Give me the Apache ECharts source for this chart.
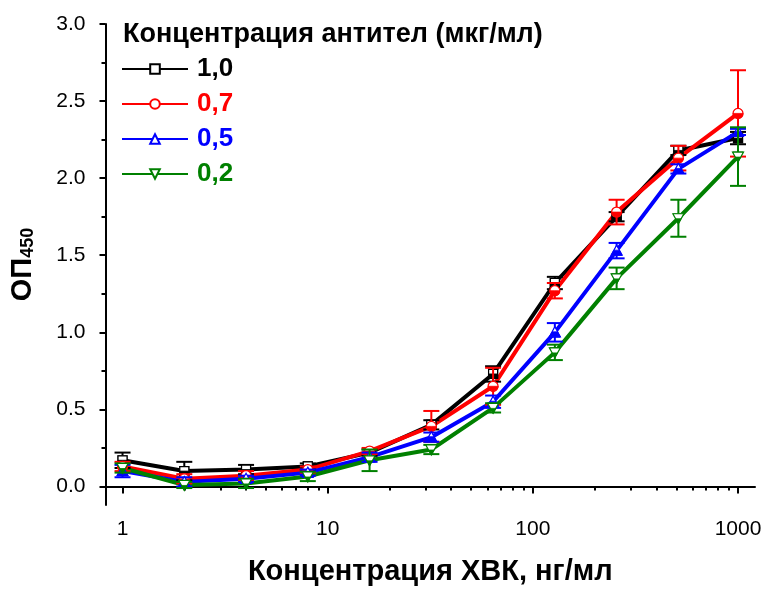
<!DOCTYPE html>
<html>
<head>
<meta charset="utf-8">
<script src="https://cdn.jsdelivr.net/npm/echarts@6/dist/echarts.min.js"></script>
<style>html,body{margin:0;padding:0;background:#fff;}#c{width:766px;height:591px;}</style>
</head>
<body>
<div id="c"></div>
<script>
// ---- data ----
var conc = [1, 2, 4, 8, 16, 32, 64, 128, 256, 512, 1000];
var names = ['1,0', '0,7', '0,5', '0,2'];
var c10 = [0.17, 0.10, 0.11, 0.13, 0.22, 0.40, 0.73, 1.32, 1.75, 2.18, 2.26];
var c10err = [0.05, 0.06, 0.03, 0.02, 0.02, 0.03, 0.05, 0.04, 0.03, 0.03, 0.04];
var c07 = [0.13, 0.05, 0.07, 0.11, 0.23, 0.39, 0.65, 1.27, 1.78, 2.13, 2.42];
var c07err = [0.03, 0.03, 0.03, 0.02, 0.02, 0.10, 0.12, 0.05, 0.08, 0.08, 0.28];
var c05 = [0.10, 0.03, 0.05, 0.09, 0.19, 0.32, 0.55, 1.00, 1.53, 2.06, 2.30];
var c05err = [0.04, 0.03, 0.02, 0.02, 0.03, 0.03, 0.04, 0.06, 0.05, 0.03, 0.02];
var c02 = [0.12, 0.01, 0.02, 0.065, 0.17, 0.24, 0.51, 0.87, 1.35, 1.74, 2.14];
var c02err = [0.03, 0.02, 0.03, 0.03, 0.07, 0.03, 0.03, 0.05, 0.07, 0.12, 0.19];
var xMajor = [1, 10, 100, 1000];
var xMinor = [2,3,4,5,6,7,8,9,20,30,40,50,60,70,80,90,200,300,400,500,600,700,800,900];
var yMajor = [0, 0.5, 1.0, 1.5, 2.0, 2.5, 3.0];
var yMinor = [0.25, 0.75, 1.25, 1.75, 2.25, 2.75];

// ---- styles ----
var colors = ['#000000', '#ff0000', '#0000ff', '#008000'];
var shapes = ['square', 'circle', 'up', 'down'];
var legendSymbols = ['rect', 'circle', 'triangle', 'path://M-5,-4L5,-4L0,5Z'];
var values = [c10, c07, c05, c02];
var errs = [c10err, c07err, c05err, c02err];
var FONT = '"Liberation Sans", Arial, sans-serif';

function markerShapes(shape, cx, cy, color) {
  var out = [];
  var s = { fill: '#fff', stroke: color, lineWidth: 1.2 };
  var f = { fill: color, stroke: color, lineWidth: 0.8 };
  if (shape === 'square') {
    out.push({ type: 'rect', shape: { x: cx - 4.5, y: cy - 4.5, width: 9, height: 9 }, style: s });
    out.push({ type: 'rect', shape: { x: cx - 4.5, y: cy, width: 9, height: 4.5 }, style: f });
  } else if (shape === 'circle') {
    out.push({ type: 'circle', shape: { cx: cx, cy: cy, r: 5 }, style: s });
    out.push({ type: 'sector', shape: { cx: cx, cy: cy, r0: 0, r: 5, startAngle: 0, endAngle: Math.PI, clockwise: true }, style: f });
  } else if (shape === 'up') {
    out.push({ type: 'polygon', shape: { points: [[cx, cy - 5.5], [cx + 5.5, cy + 4.5], [cx - 5.5, cy + 4.5]] }, style: s });
    out.push({ type: 'polygon', shape: { points: [[cx - 2.75, cy - 0.5], [cx + 2.75, cy - 0.5], [cx + 5.5, cy + 4.5], [cx - 5.5, cy + 4.5]] }, style: f });
  } else {
    out.push({ type: 'polygon', shape: { points: [[cx - 5.5, cy - 4.5], [cx + 5.5, cy - 4.5], [cx, cy + 5.5]] }, style: s });
    out.push({ type: 'polygon', shape: { points: [[cx - 2.75, cy + 0.5], [cx + 2.75, cy + 0.5], [cx, cy + 5.5]] }, style: f });
  }
  return out;
}

function makeRender(idx) {
  return function (params, api) {
    var x = api.value(0), y = api.value(1), e = api.value(2);
    var c = api.coord([x, y]);
    var t = api.coord([x, y + e]);
    var b = api.coord([x, y - e]);
    var col = colors[idx];
    var ls = { stroke: col, lineWidth: 2 };
    var ch = [
      { type: 'line', shape: { x1: c[0], y1: t[1], x2: c[0], y2: b[1] }, style: ls },
      { type: 'line', shape: { x1: c[0] - 8, y1: t[1], x2: c[0] + 8, y2: t[1] }, style: ls },
      { type: 'line', shape: { x1: c[0] - 8, y1: b[1], x2: c[0] + 8, y2: b[1] }, style: ls }
    ];
    ch = ch.concat(markerShapes(shapes[idx], c[0], c[1], col));
    return { type: 'group', children: ch };
  };
}

var series = [];
var legendData = [];
for (var i = 0; i < 4; i++) {
  var lineData = [];
  for (var j = 0; j < conc.length; j++) lineData.push([conc[j], values[i][j]]);
  series.push({
    name: names[i], type: 'line', xAxisIndex: 0, yAxisIndex: 0,
    data: lineData, symbol: legendSymbols[i], symbolSize: 9, showSymbol: true,
    lineStyle: { color: colors[i], width: 4 },
    itemStyle: { color: '#fff', borderColor: colors[i], borderWidth: 1.2 },
    z: 2, animation: false, silent: true
  });
  legendData.push({ name: names[i], textStyle: { color: colors[i] } });
}
for (var k = 0; k < 4; k++) {
  var ed = [];
  for (var m = 0; m < conc.length; m++) ed.push([conc[m], values[k][m], errs[k][m]]);
  series.push({
    name: names[k] + ' err', type: 'custom', xAxisIndex: 0, yAxisIndex: 0,
    data: ed, renderItem: makeRender(k), encode: { x: 0, y: 1 },
    z: 3 + k, animation: false, silent: true
  });
}

var chart = echarts.init(document.getElementById('c'), null, { renderer: 'canvas' });
chart.setOption({
  animation: false,
  backgroundColor: '#fff',
  textStyle: { fontFamily: FONT },
  title: {
    text: 'Концентрация антител (мкг/мл)', left: 118, top: 16,
    textStyle: { fontFamily: FONT, fontWeight: 'bold', fontSize: 27, color: '#000' }
  },
  legend: {
    data: legendData, orient: 'vertical', left: 116, top: 51,
    itemWidth: 66, itemHeight: 12, itemGap: 9,
    textStyle: { fontFamily: FONT, fontWeight: 'bold', fontSize: 26, lineHeight: 26, padding: [0, 0, 0, 4] },
    selectedMode: false
  },
  grid: { left: 105, right: 11, top: 24, bottom: 84, containLabel: false },
  xAxis: [{
    type: 'log', logBase: 10, min: 0.826, max: 1210,
    name: 'Концентрация ХВК, нг/мл', nameLocation: 'middle', nameGap: 52,
    nameTextStyle: { fontFamily: FONT, fontWeight: 'bold', fontSize: 29, color: '#000' },
    axisLine: { show: true, lineStyle: { color: '#000', width: 2 } },
    axisTick: { show: true, inside: false, length: 7, lineStyle: { color: '#000', width: 2 }, customValues: xMajor },
    axisLabel: { customValues: xMajor, margin: 14, fontSize: 21, color: '#000', fontFamily: FONT,
      formatter: function (v) { return String(Math.round(v)); } },
    splitLine: { show: false }, minorTick: { show: false }
  }, {
    type: 'log', logBase: 10, min: 0.826, max: 1210, position: 'bottom',
    axisLine: { show: false },
    axisTick: { show: true, inside: false, length: 4, lineStyle: { color: '#000', width: 2 }, customValues: xMinor },
    axisLabel: { show: false },
    splitLine: { show: false }
  }],
  yAxis: [{
    type: 'value', min: -0.12, max: 3.0,
    name: 'ОП{sub|450}', nameLocation: 'middle', nameGap: 68, nameRotate: 90,
    nameTextStyle: { fontFamily: FONT, fontWeight: 'bold', fontSize: 29, color: '#000',
      rich: { sub: { fontFamily: FONT, fontWeight: 'bold', fontSize: 18, color: '#000', verticalAlign: 'bottom', padding: [12, 0, 0, 0] } } },
    axisLine: { show: true, onZero: false, lineStyle: { color: '#000', width: 2 } },
    axisTick: { show: true, inside: false, length: 6, lineStyle: { color: '#000', width: 2 }, customValues: yMajor },
    axisLabel: { customValues: yMajor, margin: 20, fontSize: 21, color: '#000', fontFamily: FONT,
      formatter: function (v) { return v.toFixed(1); } },
    splitLine: { show: false }
  }, {
    type: 'value', min: -0.12, max: 3.0, position: 'left',
    axisLine: { show: false },
    axisTick: { show: true, inside: false, length: 4, lineStyle: { color: '#000', width: 2 }, customValues: yMinor },
    axisLabel: { show: false },
    splitLine: { show: false }
  }],
  series: series
});
</script>
</body>
</html>
